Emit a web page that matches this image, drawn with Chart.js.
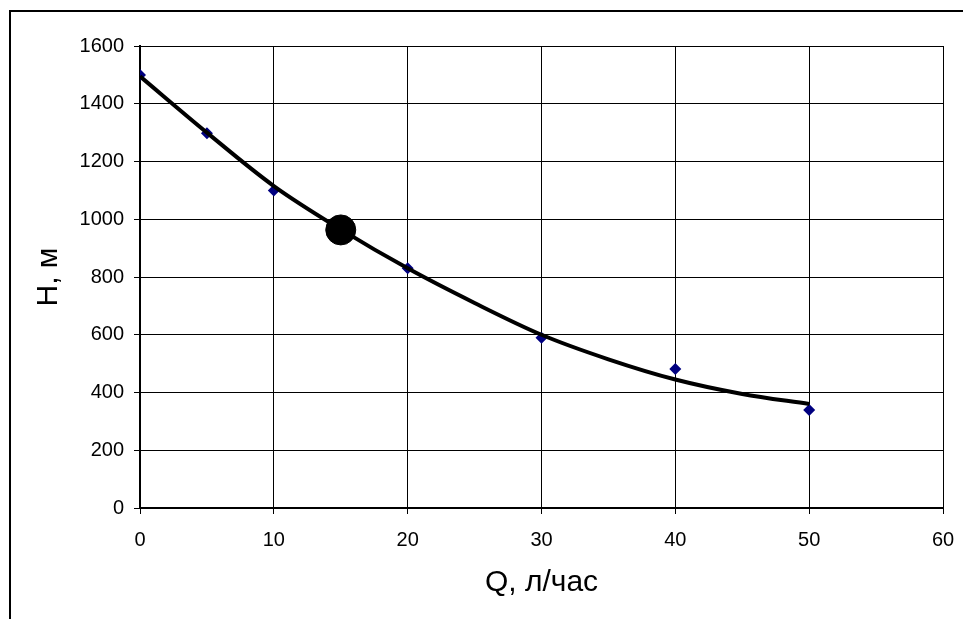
<!DOCTYPE html>
<html>
<head>
<meta charset="utf-8">
<script src="https://cdn.jsdelivr.net/npm/chart.js@4"></script>
<style>
  html, body { margin: 0; padding: 0; background: #fff; overflow: hidden; }
  #frame { position: absolute; left: 9px; top: 10px; width: 1000px; height: 700px; border: 2px solid #000; }
  #wrap { position: absolute; left: 0; top: 0; width: 963px; height: 619px; }
</style>
</head>
<body>
<div id="frame"></div>
<div id="wrap"><canvas id="myChart" width="963" height="619"></canvas></div>
<script>
const qValues = [0, 5, 10, 20, 30, 40, 50];
const hValues = [1500, 1298, 1100, 830, 590, 481, 339];

const trendQ = [0, 5, 10, 15, 20, 25, 30, 35, 40, 45, 50];
const trendH = [1495, 1300, 1115, 965, 830, 710, 600, 515, 445, 395, 360];

const workQ = [15];
const workH = [963];

const xTicks = [0, 10, 20, 30, 40, 50, 60];
const yTicks = [0, 200, 400, 600, 800, 1000, 1200, 1400, 1600];

const toPoints = (xs, ys) => xs.map((x, i) => ({ x: x, y: ys[i] }));

const fontFamily = "'Liberation Sans', Arial, sans-serif";

const ctx = document.getElementById("myChart");

new Chart(ctx, {
  type: "scatter",
  data: {
    datasets: [
      {
        label: "H",
        data: toPoints(qValues, hValues),
        pointStyle: "rectRot",
        pointRadius: 6,
        backgroundColor: "#000080",
        borderColor: "#000080",
        borderWidth: 0,
        order: 3,
      },
      {
        label: "trend",
        data: toPoints(trendQ, trendH),
        showLine: true,
        pointRadius: 0,
        borderColor: "#000",
        borderWidth: 4,
        cubicInterpolationMode: "monotone",
        order: 2,
      },
      {
        label: "work",
        data: toPoints(workQ, workH),
        pointRadius: 15,
        backgroundColor: "#000",
        borderColor: "#000",
        order: 1,
      },
    ],
  },
  options: {
    responsive: false,
    animation: false,
    layout: {
      padding: { left: 0, top: 46, right: 20, bottom: 0 },
    },
    plugins: {
      legend: { display: false },
      tooltip: { enabled: false },
    },
    scales: {
      x: {
        type: "linear",
        min: 0,
        max: 60,
        afterBuildTicks: (scale) => {
          scale.ticks = xTicks.map((v) => ({ value: v }));
        },
        afterFit: (scale) => {
          scale.height = 111;
          scale.paddingLeft = 0;
          scale.paddingRight = 0;
        },
        grid: {
          color: "#000",
          lineWidth: 1,
          tickLength: 6,
        },
        border: { color: "#000", width: 2 },
        ticks: {
          color: "#000",
          padding: 14,
          maxRotation: 0,
          callback: (v) => String(v),
          font: { family: fontFamily, size: 20 },
        },
        title: {
          display: true,
          text: "Q, л/час",
          color: "#000",
          padding: { top: 0, bottom: 18 },
          font: { family: fontFamily, size: 30 },
        },
      },
      y: {
        type: "linear",
        min: 0,
        max: 1600,
        afterBuildTicks: (scale) => {
          scale.ticks = yTicks.map((v) => ({ value: v }));
        },
        afterFit: (scale) => {
          scale.width = 140;
          scale.paddingTop = 0;
          scale.paddingBottom = 0;
        },
        grid: {
          color: "#000",
          lineWidth: 1,
          tickLength: 6,
        },
        border: { color: "#000", width: 2 },
        ticks: {
          color: "#000",
          padding: 10,
          callback: (v) => String(v),
          font: { family: fontFamily, size: 20 },
        },
        title: {
          display: true,
          text: "H, м",
          color: "#000",
          padding: { top: 31, bottom: 0 },
          font: { family: fontFamily, size: 30 },
        },
      },
    },
  },
});
</script>
</body>
</html>
